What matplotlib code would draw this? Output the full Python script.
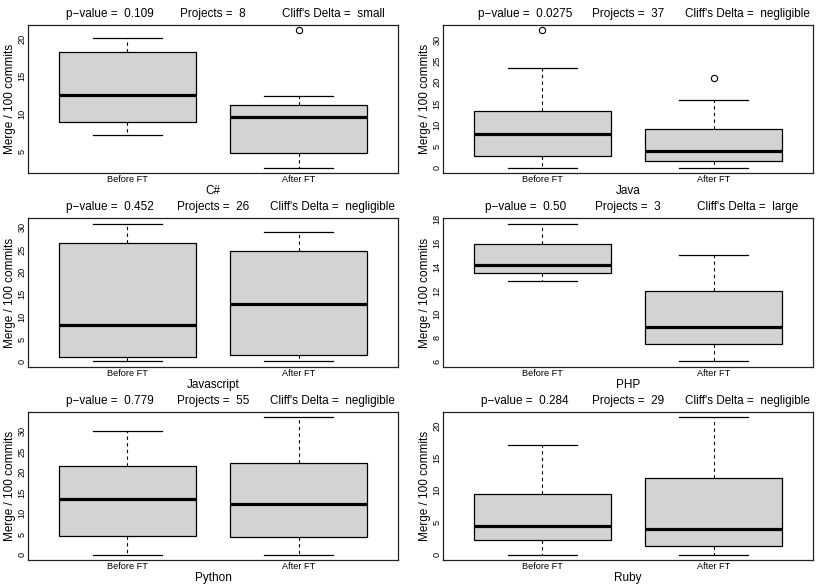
import matplotlib
matplotlib.use("Agg")
from matplotlib import pyplot as plt

plt.rcParams['font.family'] = ['Liberation Sans', 'DejaVu Sans']

languages = ['C#', 'Java', 'Javascript', 'PHP', 'Python', 'Ruby']
groups = ['Before FT', 'After FT']

# [whislo, q1, median, q3, whishi] per group
before = [
    [7.1, 8.9, 12.5, 18.2, 20.1],
    [0.0, 2.7, 7.95, 13.3, 23.3],
    [0.0, 1.1, 8.1, 26.5, 30.8],
    [12.76, 13.45, 14.15, 15.9, 17.65],
    [0.0, 4.4, 13.5, 21.6, 30.0],
    [0.0, 2.3, 4.5, 9.4, 17.1],
]
after = [
    [2.8, 4.7, 9.6, 11.2, 12.3],
    [0.0, 1.6, 3.9, 9.1, 15.9],
    [0.0, 1.5, 12.9, 24.7, 28.8],
    [6.0, 7.45, 8.93, 11.97, 15.0],
    [0.0, 4.2, 12.3, 22.2, 33.3],
    [0.0, 1.3, 3.9, 11.9, 21.35],
]
before_out = [[], [32.1], [], [], [], []]
after_out = [[21.1], [21.0], [], [], [], []]

p_values = ['0.109', '0.0275', '0.452', '0.50', '0.779', '0.284']
projects = [8, 37, 26, 3, 55, 29]
deltas = ['small', 'negligible', 'negligible', 'large', 'negligible', 'negligible']

yticks = [
    [5, 10, 15, 20],
    [0, 5, 10, 15, 20, 25, 30],
    [0, 5, 10, 15, 20, 25, 30],
    [6, 8, 10, 12, 14, 16, 18],
    [0, 5, 10, 15, 20, 25, 30],
    [0, 5, 10, 15, 20],
]

W, H = 830, 588
fig = plt.figure(figsize=(W / 100, H / 100), dpi=100)

lefts = [28, 443]
rows = [(25, 173), (218, 367), (412, 560)]


def stats(vals, fl, label):
    lo, q1, med, q3, hi = vals
    return dict(whislo=lo, q1=q1, med=med, q3=q3, whishi=hi, fliers=fl, label=label)


for i, lang in enumerate(languages):
    r, c = divmod(i, 2)
    top, bot = rows[r]
    ax = fig.add_axes([lefts[c] / W, 1 - bot / H, 370 / W, (bot - top) / H])

    st = [stats(before[i], before_out[i], groups[0]),
          stats(after[i], after_out[i], groups[1])]
    ax.bxp(st, positions=[1, 2], widths=0.8, capwidths=0.4, patch_artist=True,
           boxprops=dict(facecolor='#d3d3d3', edgecolor='black', linewidth=0.9),
           medianprops=dict(color='black', linewidth=2.3),
           whiskerprops=dict(color='black', linewidth=0.8, linestyle=(0, (3, 3))),
           capprops=dict(color='black', linewidth=0.9),
           flierprops=dict(marker='o', markerfacecolor='none', markeredgecolor='black',
                           markersize=4.5, markeredgewidth=0.8))

    allv = before[i] + after[i] + before_out[i] + after_out[i]
    lo, hi = min(allv), max(allv)
    pad = (hi - lo) * 0.04
    ax.set_ylim(lo - pad, hi + pad)
    ax.set_xlim(0.42, 2.58)

    ax.set_yticks(yticks[i])
    ax.set_yticklabels([str(t) for t in yticks[i]], rotation=90, va='center')
    ax.tick_params(axis='both', length=0, labelsize=6.6, pad=1)
    ax.tick_params(axis='x', pad=1.5)
    for s in ax.spines.values():
        s.set_linewidth(0.9)
        s.set_color('#222222')

    ax.set_ylabel('Merge / 100 commits', fontsize=8.5, labelpad=1)
    ax.set_xlabel(lang, fontsize=8.5, labelpad=0.5)

    texts = ['p\u2212value =  ' + p_values[i],
             'Projects =  ' + str(projects[i]),
             "Cliff's Delta =  " + deltas[i]]
    for x, t in zip([0.9, 1.5, 2.2], texts):
        ax.annotate(t, xy=(x, 1), xycoords=('data', 'axes fraction'),
                    xytext=(0, 3.5), textcoords='offset points',
                    ha='center', va='bottom', fontsize=8.5)

fig.savefig('out.png', dpi=100)
